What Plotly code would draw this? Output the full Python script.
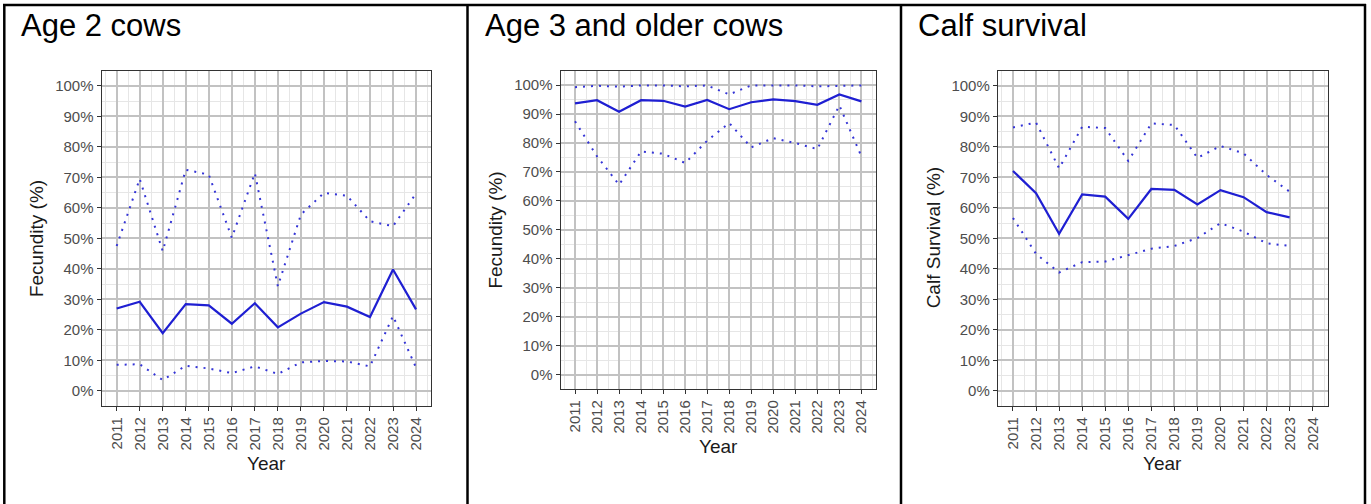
import plotly.graph_objects as go

# Survey years
years = list(range(2011, 2025))
calf_years = list(range(2011, 2024))

# Age 2 cows: fecundity estimate with lower/upper bounds (%)
age2_est = [27.0, 29.2, 18.9, 28.4, 28.0, 22.0, 28.7, 20.8, 25.3, 29.1, 27.6, 24.2, 39.8, 26.7]
age2_upper = [47.5, 69.5, 45.8, 72.5, 70.9, 50.2, 71.4, 34.3, 57.8, 64.9, 64.0, 55.6, 54.0, 64.7]
age2_lower = [8.5, 8.7, 3.5, 8.2, 7.3, 5.8, 8.0, 5.5, 9.3, 9.8, 9.6, 8.0, 24.5, 7.6]

# Age 3 and older cows: fecundity estimate with bounds (%)
age3_est = [93.7, 94.8, 90.8, 94.8, 94.6, 92.6, 94.9, 91.7, 94.1, 95.1, 94.5, 93.2, 96.8, 94.4]
age3_upper = [99.3, 99.8, 99.5, 99.9, 99.9, 99.6, 99.9, 96.8, 99.9, 99.9, 99.9, 99.6, 99.7, 99.9]
age3_lower = [87.5, 75.4, 65.6, 77.1, 76.3, 73.1, 80.8, 86.9, 78.5, 81.7, 80.0, 77.9, 93.0, 75.4]

# Calf survival estimate with bounds (%)
calf_est = [72.1, 64.8, 51.5, 64.4, 63.7, 56.4, 66.2, 65.9, 61.1, 65.8, 63.5, 58.6, 56.9]
calf_upper = [86.4, 88.0, 73.0, 86.6, 86.2, 75.4, 87.7, 87.2, 76.4, 80.3, 77.9, 70.8, 65.3]
calf_lower = [56.7, 44.9, 38.8, 42.2, 42.4, 44.6, 46.6, 47.5, 50.1, 55.0, 52.2, 48.4, 47.5]

panel_titles = ["Age 2 cows", "Age 3 and older cows", "Calf survival"]
y_titles = ["Fecundity (%)", "Fecundity (%)", "Calf Survival (%)"]
y_ticks = list(range(0, 101, 10))
y_tick_text = [f"{v}%" for v in y_ticks]

W, H = 1371, 504
FONT = "Liberation Sans, Arial, Helvetica, sans-serif"
EST_COLOR = "#1f1fd2"
CI_COLOR = "#3434d6"

series = [
    (years, age2_est, age2_upper, age2_lower),
    (years, age3_est, age3_upper, age3_lower),
    (calf_years, calf_est, calf_upper, calf_lower),
]

# panel plot areas in pixels: (left, right, top, bottom)
boxes = [
    (101.7, 431.0, 70.7, 406.0),
    (560.7, 875.7, 70.7, 389.0),
    (998.0, 1327.7, 70.7, 406.0),
]

fig = go.Figure()
for i, (xs, est, up, lo) in enumerate(series):
    sfx = "" if i == 0 else str(i + 1)
    for vals, dash, width, color in [
        (up, "2px,6px", 2.0, CI_COLOR),
        (lo, "2px,6px", 2.0, CI_COLOR),
        (est, "solid", 2.2, EST_COLOR),
    ]:
        fig.add_trace(go.Scatter(
            x=xs, y=vals, mode="lines",
            line=dict(color=color, width=width, dash=dash),
            xaxis="x" + sfx, yaxis="y" + sfx, showlegend=False,
            hoverinfo="skip",
        ))

layout = dict(
    width=W, height=H, autosize=False,
    margin=dict(l=0, r=0, t=0, b=0),
    paper_bgcolor="white", plot_bgcolor="white",
    font=dict(family=FONT),
    showlegend=False,
)

annotations = []
shapes = []
title_x = [19, 483, 916]
for i, (l, r, t, b) in enumerate(boxes):
    sfx = "" if i == 0 else str(i + 1)
    layout["xaxis" + sfx] = dict(
        domain=[l / W, r / W], anchor="y" + sfx,
        range=[2010.35, 2024.65],
        tickmode="array", tickvals=years, ticktext=[str(y) for y in years],
        tickangle=-90, ticks="outside", ticklen=4, tickwidth=1.4, tickcolor="#333333",
        tickfont=dict(size=15, color="#4d4d4d", family=FONT),
        showline=True, linecolor="#333333", linewidth=1.4, mirror=True,
        showgrid=True, gridcolor="#c2c2c2", gridwidth=1.5,
        minor=dict(dtick=0.5, tick0=2010.5, showgrid=True, gridcolor="#e6e6e6", gridwidth=1),
        zeroline=False, fixedrange=True,
    )
    layout["yaxis" + sfx] = dict(
        domain=[1 - b / H, 1 - t / H], anchor="x" + sfx,
        range=[-5, 105],
        tickmode="array", tickvals=y_ticks, ticktext=y_tick_text,
        ticks="outside", ticklen=4, tickwidth=1.4, tickcolor="#333333",
        tickfont=dict(size=15, color="#4d4d4d", family=FONT),
        showline=True, linecolor="#333333", linewidth=1.4, mirror=True,
        showgrid=True, gridcolor="#c2c2c2", gridwidth=1.5,
        minor=dict(dtick=5, tick0=0, showgrid=True, gridcolor="#e6e6e6", gridwidth=1),
        zeroline=False, fixedrange=True,
    )
    # panel heading
    annotations.append(dict(
        text=panel_titles[i], x=title_x[i] / W, y=1 - 25 / H,
        xref="paper", yref="paper", xanchor="left", yanchor="middle",
        showarrow=False, font=dict(size=31, color="black", family=FONT),
    ))
    # y axis title
    annotations.append(dict(
        text=y_titles[i], x=(l - 65) / W, y=1 - ((t + b) / 2) / H,
        xref="paper", yref="paper", xanchor="center", yanchor="middle",
        textangle=-90, showarrow=False,
        font=dict(size=19, color="#1a1a1a", family=FONT),
    ))
    # x axis title
    annotations.append(dict(
        text="Year", x=((l + r) / 2) / W, y=1 - (b + 57) / H,
        xref="paper", yref="paper", xanchor="center", yanchor="middle",
        showarrow=False, font=dict(size=19, color="#1a1a1a", family=FONT),
    ))

# outer frame and panel dividers
frame = dict(color="black", width=2.5)
shapes.append(dict(type="line", xref="paper", yref="paper",
                   x0=3 / W, x1=1366 / W, y0=1 - 5 / H, y1=1 - 5 / H, line=frame))
for xp in [4.3, 467.5, 901.0, 1365.0]:
    shapes.append(dict(type="line", xref="paper", yref="paper",
                       x0=xp / W, x1=xp / W, y0=-0.01, y1=1 - 4 / H, line=frame))

layout["annotations"] = annotations
layout["shapes"] = shapes
fig.update_layout(**layout)

fig.write_html("out.html")
